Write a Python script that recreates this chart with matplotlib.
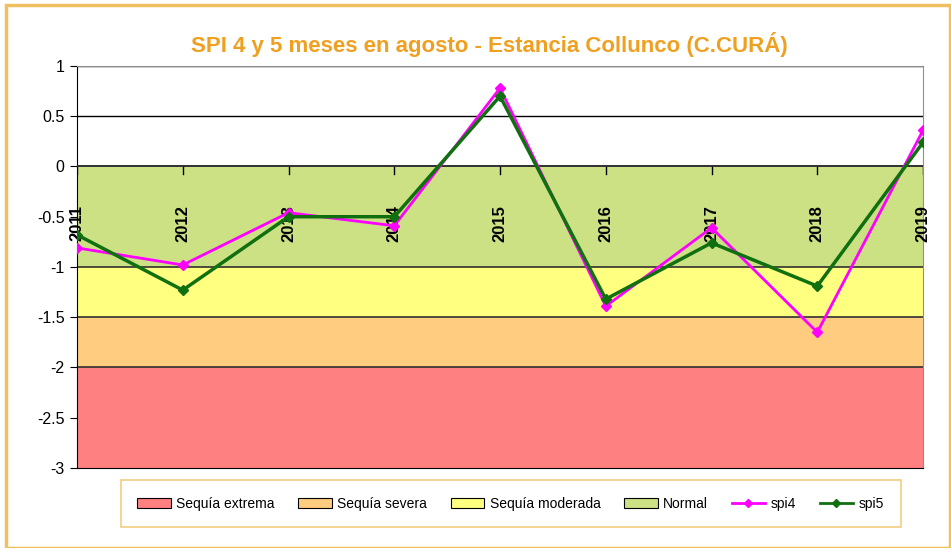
import numpy as np
import matplotlib.pyplot as plt
from matplotlib.patches import Rectangle, Patch
from matplotlib.lines import Line2D

plt.rcParams['font.family'] = ['Liberation Sans', 'DejaVu Sans']

# data
years = ['2011', '2012', '2013', '2014', '2015', '2016', '2017', '2018', '2019']
spi4 = [-0.81, -0.98, -0.46, -0.59, 0.78, -1.39, -0.61, -1.65, 0.36]
spi5 = [-0.68, -1.23, -0.50, -0.50, 0.70, -1.32, -0.76, -1.19, 0.24]

band_names = ['Sequía extrema', 'Sequía severa', 'Sequía moderada', 'Normal']
band_low = [-3, -2, -1.5, -1]
band_high = [-2, -1.5, -1, 0]
band_colors = ['#ff8080', '#ffcc80', '#ffff80', '#cce184']

fig = plt.figure(figsize=(9.51, 5.48), dpi=100)
ax = fig.add_axes([0.081, 0.146, 0.8896, 0.7336])

x = np.arange(len(years))
ax.set_xlim(x[0], x[-1])
ax.set_ylim(-3, 1)

# grid lines in the white part
for g in [0.5, 1.0]:
    ax.axhline(g, color='black', lw=1, zorder=1)

for lo, hi, c in zip(band_low, band_high, band_colors):
    ax.axhspan(lo, hi, facecolor=c, edgecolor='none', zorder=1)
    ax.axhline(hi, color='#303030', lw=1.2, zorder=2)

ax.plot(x, spi4, color='#ff00ff', lw=2, marker='D', ms=5, zorder=4)
ax.plot(x, spi5, color='#107010', lw=2.5, marker='D', ms=5, zorder=5)

# category labels sit inside the plot under the zero line
for xi, lab in zip(x, years):
    ax.text(xi, -0.38, lab, rotation=90, ha='center', va='top',
            fontsize=12, fontweight='bold', zorder=3)
    ax.plot([xi, xi], [0, -0.07], color='black', lw=1, zorder=3)
ax.axhline(0, color='#303030', lw=1.2, zorder=3)

ax.set_xticks([])
ax.set_yticks(np.arange(-3, 1.01, 0.5))
ax.set_yticklabels(['-3', '-2.5', '-2', '-1.5', '-1', '-0.5', '0', '0.5', '1'])
ax.tick_params(axis='y', direction='out', length=5, labelsize=11.5, pad=4)
for s in ['top', 'right']:
    ax.spines[s].set_color('#909090')
ax.spines['left'].set_color('black')
ax.spines['bottom'].set_color('black')

fig.text(0.515, 0.918, 'SPI 4 y 5 meses en agosto - Estancia Collunco (C.CURÁ)',
         ha='center', va='center', fontsize=16, fontweight='bold', color='#f0a020')

handles = [Patch(facecolor=c, edgecolor='black', lw=0.8) for c in band_colors]
handles += [Line2D([0], [0], color='#ff00ff', lw=2, marker='D', ms=4),
            Line2D([0], [0], color='#107010', lw=2, marker='D', ms=4)]
labels = band_names + ['spi4', 'spi5']
leg = fig.legend(handles, labels, ncol=6, loc='center',
                 bbox_to_anchor=(0.537, 0.081), fontsize=10, frameon=True,
                 fancybox=False, edgecolor='#f0c060', handlelength=2.4,
                 columnspacing=1.7, handletextpad=0.4, borderpad=1.2)
leg.get_frame().set_linewidth(1.2)

# orange frame around the whole chart
fig.patches.append(Rectangle((0.006, 0.0), 0.993, 0.99, transform=fig.transFigure,
                             fill=False, edgecolor='#f0c060', lw=2.5))

fig.savefig('out.png', dpi=100)
